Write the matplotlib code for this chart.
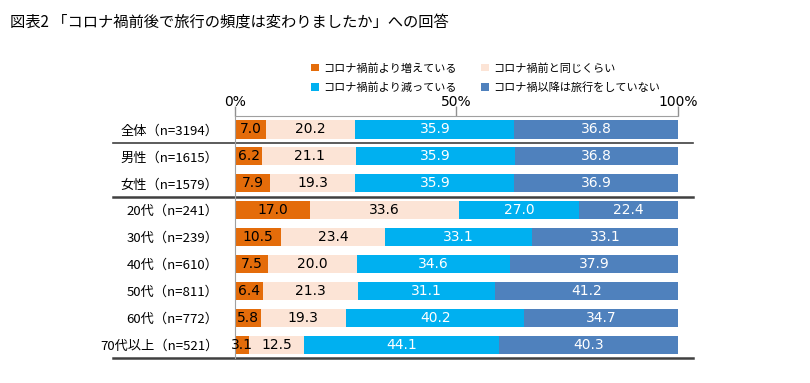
import matplotlib.pyplot as plt
import numpy as np

plt.rcParams['font.family'] = ['Noto Sans CJK JP', 'DejaVu Sans']

groups = ['全体（n=3194）', '男性（n=1615）', '女性（n=1579）', '20代（n=241）',
          '30代（n=239）', '40代（n=610）', '50代（n=811）', '60代（n=772）',
          '70代以上（n=521）']
increased = [7.0, 6.2, 7.9, 17.0, 10.5, 7.5, 6.4, 5.8, 3.1]
same = [20.2, 21.1, 19.3, 33.6, 23.4, 20.0, 21.3, 19.3, 12.5]
decreased = [35.9, 35.9, 35.9, 27.0, 33.1, 34.6, 31.1, 40.2, 44.1]
no_travel = [36.8, 36.8, 36.9, 22.4, 33.1, 37.9, 41.2, 34.7, 40.3]

series = [
    ('コロナ禍前より増えている', increased, '#E46C0A', 'black'),
    ('コロナ禍前と同じくらい', same, '#FCE4D6', 'black'),
    ('コロナ禍前より減っている', decreased, '#00B0F0', 'white'),
    ('コロナ禍以降は旅行をしていない', no_travel, '#4F81BD', 'white'),
]

fig = plt.figure(figsize=(8.1, 3.83), dpi=100)
ax = fig.add_axes([0.290, 0.065, 0.547, 0.632])

y = np.arange(len(groups))
left = np.zeros(len(groups))
handles = []
for name, vals, color, tcolor in series:
    vals = np.array(vals)
    bars = ax.barh(y, vals, left=left, height=0.67, color=color, label=name)
    handles.append(bars)
    for yi, l, v in zip(y, left, vals):
        ax.text(l + v / 2, yi, f'{v:.1f}', ha='center', va='center',
                fontsize=10, color=tcolor, family='DejaVu Sans')
    left += vals

ax.set_xlim(0, 100)
ax.set_ylim(len(groups) - 0.5, -0.5)
ax.set_yticks(y)
ax.set_yticklabels(groups, fontsize=9.5)
ax.tick_params(axis='y', length=0, pad=12)
ax.xaxis.tick_top()
ax.set_xticks([0, 50, 100])
ax.set_xticklabels(['0%', '50%', '100%'], fontsize=10, family='DejaVu Sans')
ax.tick_params(axis='x', length=7, width=1, color='#909090', pad=-2)
for s in ['right', 'bottom']:
    ax.spines[s].set_visible(False)
ax.spines['top'].set_color('#A0A0A0')
ax.spines['left'].set_color('#A0A0A0')

# separator lines across the label column
for yy, lw in [(0.5, 1.2), (2.5, 1.8), (8.5, 1.8)]:
    ax.plot([-27.5, 103.5], [yy, yy], color='#404040', lw=lw, clip_on=False)

# legend filled row by row, as in the reference
order = [0, 2, 1, 3]
fig.legend(handles=[handles[i] for i in order], loc='upper left',
           bbox_to_anchor=(0.372, 0.862), ncol=2, frameon=False, fontsize=8,
           handlelength=0.7, handleheight=0.7, columnspacing=2.2,
           handletextpad=0.4, labelspacing=0.8)

fig.text(0.012, 0.93, '図表2 「コロナ禍前後で旅行の頻度は変わりましたか」への回答', fontsize=11)

fig.savefig('out.png', dpi=100)
